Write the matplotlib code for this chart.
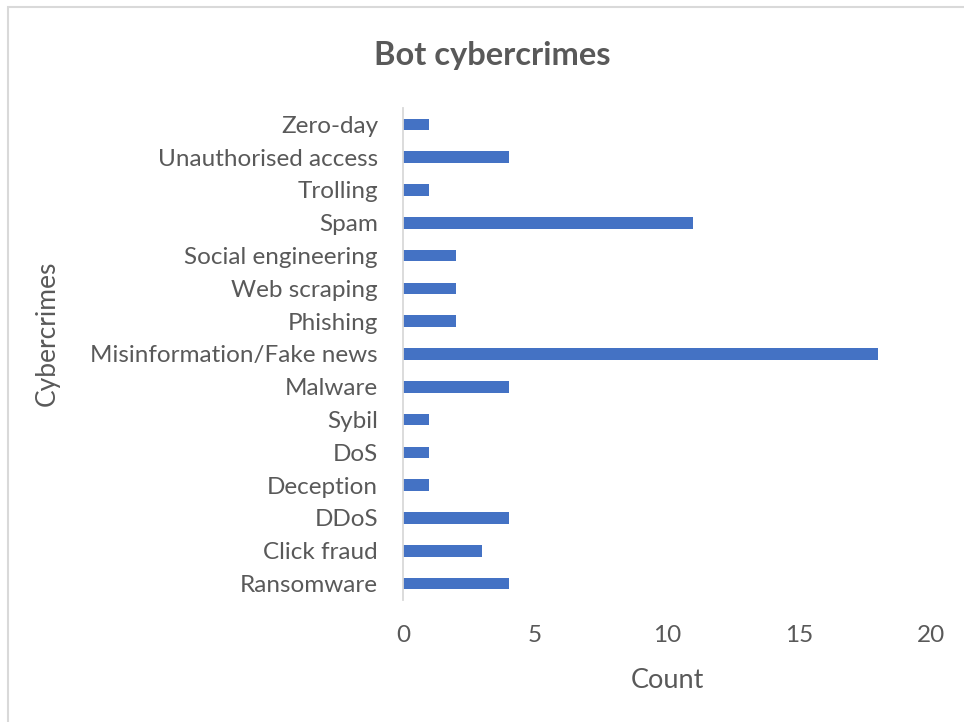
import matplotlib
matplotlib.use("Agg")
import matplotlib.pyplot as plt
from matplotlib.patches import Rectangle

categories = ["Ransomware", "Click fraud", "DDoS", "Deception", "DoS", "Sybil",
              "Malware", "Misinformation/Fake news", "Phishing", "Web scraping",
              "Social engineering", "Spam", "Trolling", "Unauthorised access",
              "Zero-day"]
counts = [4, 3, 4, 1, 1, 1, 4, 18, 2, 2, 2, 11, 1, 4, 1]
x_ticks = [0, 5, 10, 15, 20]

plt.rcParams["font.family"] = ["Lato", "DejaVu Sans"]
text_color = "#595959"

fig = plt.figure(figsize=(9.64, 7.22), dpi=100)
W, H = 964, 722
ax = fig.add_axes([403 / W, 1 - 600 / H, (931 - 403) / W, (600 - 108) / H])

ypos = list(range(len(categories)))
ax.barh(ypos, counts, height=0.35, color="#4472C4")
ax.set_ylim(-0.5, len(categories) - 0.5)
ax.set_xlim(0, 20)
ax.set_xticks(x_ticks)
ax.set_xticklabels([str(t) for t in x_ticks])
ax.set_yticks(ypos)
ax.set_yticklabels(categories)

for s in ["top", "right", "bottom"]:
    ax.spines[s].set_visible(False)
ax.spines["left"].set_color("#D9D9D9")
ax.spines["left"].set_linewidth(1.3)
ax.tick_params(axis="both", length=0, labelsize=17.5, colors=text_color)
ax.tick_params(axis="x", pad=18)
ax.tick_params(axis="y", pad=18)

ax.set_xlabel("Count", fontsize=19.5, color=text_color)
ax.xaxis.set_label_coords(0.5, (600 - 680) / 492)
ax.xaxis.label.set_va("center")
ax.set_ylabel("Cybercrimes", fontsize=19, color=text_color)
ax.yaxis.set_label_coords((47 - 403) / 528, (600 - 333) / 492)
ax.yaxis.label.set_va("center")

fig.text(492 / W, 1 - 55 / H, "Bot cybercrimes", ha="center", va="center",
         fontsize=23.5, fontweight="bold", color=text_color)

fig.patches.append(Rectangle((8 / W, -0.1), 1.2, 1 - 7 / H + 0.1,
                             transform=fig.transFigure, fill=False,
                             edgecolor="#D9D9D9", linewidth=1.5))

fig.savefig("out.png", dpi=100, facecolor="white")
